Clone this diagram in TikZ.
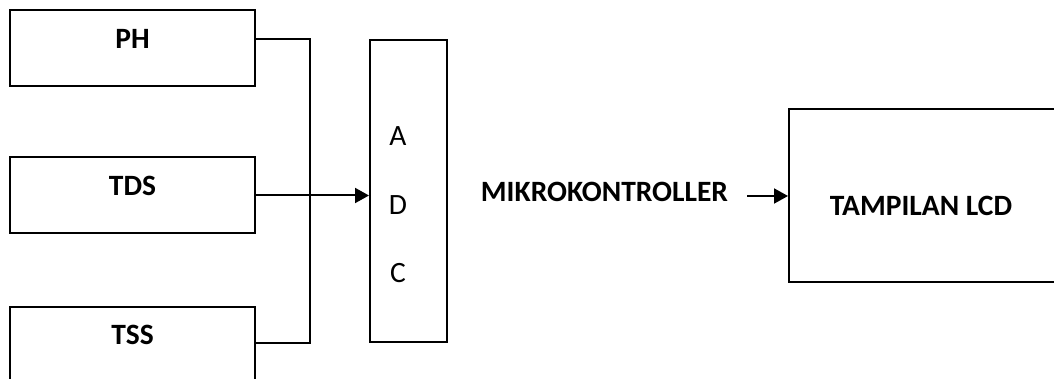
\documentclass[tikz,border=0pt]{standalone}
\usepackage{fontspec}
\setmainfont{Carlito}
\usetikzlibrary{arrows.meta}

\begin{document}
\begin{tikzpicture}[x=1pt, y=-1pt,
    wire/.style={line width=2pt},
    arr/.style={wire, -{Triangle[length=14pt,width=15pt]}},
    sensor/.style={draw, line width=2pt, minimum width=245pt, minimum height=76pt,
        inner sep=0pt, text height=11pt, text depth=11pt,
        font=\fontsize{29.5}{34}\selectfont\bfseries},
    plain/.style={inner sep=0pt, font=\fontsize{29.5}{34}\selectfont},
    title/.style={inner sep=0pt, font=\fontsize{29.5}{34}\selectfont\bfseries}]
  \clip (0,0) rectangle (1054,379);

  % sensor blocks
  \node[sensor] (ph)  at (132.5,48.5)  {PH};
  \node[sensor] (tds) at (132.5,195.5) {TDS};
  \node[sensor] (tss) at (132.5,344.5) {TSS};

  % converter block
  \node[draw, line width=2pt, minimum width=77pt, minimum height=302pt, inner sep=0pt]
    (adc) at (408.5,191) {};
  \node[plain, align=center] (adcletters) at (398,205)
    {A\\[34.5pt]D\\[34.5pt]C};

  % collecting bus
  \coordinate (bus) at (310,191);
  \draw[wire] (ph.east |- adc.north) -| (bus |- adc.south) -- (tss.east |- adc.south);
  \draw[arr] (tds.east) -- (tds.east -| adc.west);

  % controller and display
  \node[title] (mk) at (604.5,192) {MIKROKONTROLLER};
  \node[draw, line width=2pt, anchor=west, minimum width=320pt, minimum height=173pt,
        inner sep=0pt] (lcd) at (788,195.5) {};
  \node[title] (lcdtext) at (921,206) {TAMPILAN LCD};
  \coordinate (mkout) at (747,196);
  \draw[arr] (mkout) -- (mkout -| lcd.west);
\end{tikzpicture}
\end{document}
